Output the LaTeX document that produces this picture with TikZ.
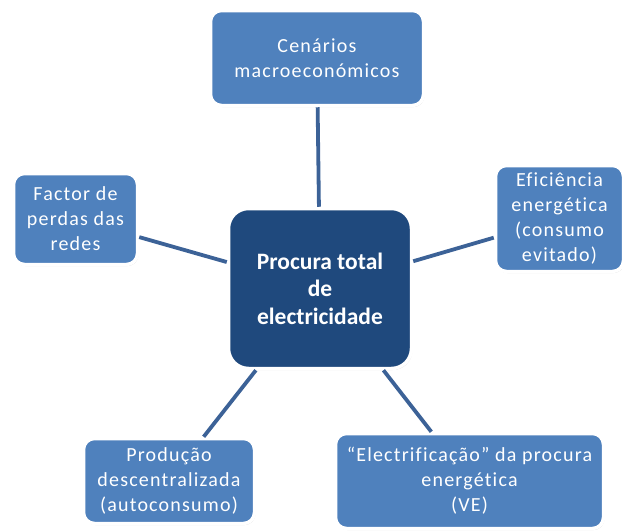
\documentclass[tikz,border=0pt]{standalone}
\usepackage{fontspec}
\setmainfont{Carlito}
\newfontfamily\boxfont[LetterSpace=6,Ligatures=NoCommon]{Carlito}
\usetikzlibrary{shadows}
\definecolor{boxblue}{HTML}{4F81BD}
\definecolor{hubblue}{HTML}{1F497D}
\definecolor{linkblue}{HTML}{3C6297}

\begin{document}
\begin{tikzpicture}[
  x=1pt, y=-1pt,
  every node/.style={inner sep=0pt, align=center},
  topic/.style={draw=white, line width=3.5pt, rounded corners=11pt, fill=boxblue, text=white,
    font=\boxfont\fontsize{20}{25}\selectfont,
    drop shadow={shadow xshift=1pt, shadow yshift=-1.5pt, opacity=0.3, fill=black!60}},
  hub/.style={topic, fill=hubblue, rounded corners=20pt, font=\bfseries\fontsize{23.5}{27.5}\selectfont},
  link/.style={draw=linkblue, line width=3.8pt},
]
  \useasboundingbox (0,0) rectangle (622,531);

  \node[hub, minimum width=183pt, minimum height=160pt] (demand) at (320,288.5) {Procura total\\de\\electricidade};

  \node[topic, minimum width=213pt, minimum height=95pt] (macro) at (317,58) {Cenários\\macroeconómicos};
  \node[topic, minimum width=124pt, minimum height=91pt] (losses) at (75.5,219) {Factor de\\perdas das\\redes};
  \node[topic, minimum width=128pt, minimum height=106pt] (effic) at (559.5,218.5) {Eficiência\\energética\\(consumo\\evitado)};
  \node[topic, minimum width=171pt, minimum height=85pt] (selfgen) at (169,481) {Produção\\descentralizada\\(autoconsumo)};
  \node[topic, minimum width=268pt, minimum height=95pt] (electr) at (469.5,481) {“Electrificação” da procura\\energética\\(VE)};

  \foreach \topicname in {macro,losses,effic,selfgen,electr}
    \path[link] (demand) -- (\topicname);
\end{tikzpicture}
\end{document}
